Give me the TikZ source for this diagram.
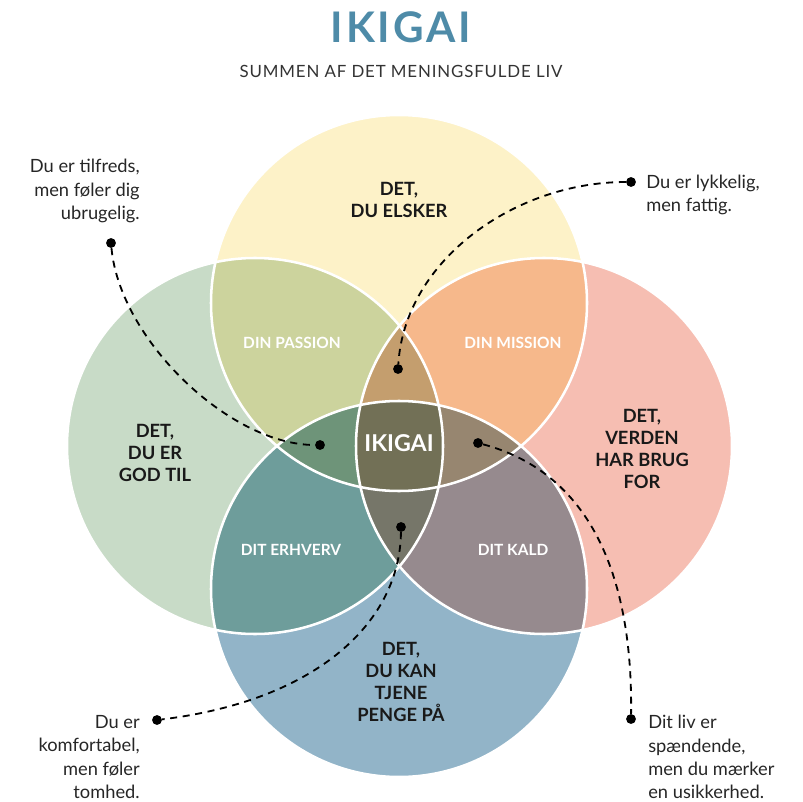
\documentclass[tikz,border=0pt]{standalone}
\usepackage{fontspec}
\setmainfont{Lato}
\usetikzlibrary{positioning}

\definecolor{titleblue}{HTML}{4E8BA8}
\definecolor{loveyellow}{HTML}{FDF2C8}
\definecolor{goodgreen}{HTML}{C8DBC7}
\definecolor{needpink}{HTML}{F6BEB2}
\definecolor{paidblue}{HTML}{92B4C8}
\definecolor{passioncol}{HTML}{CCD39D}
\definecolor{missioncol}{HTML}{F6B88B}
\definecolor{erhvervcol}{HTML}{6E9D9B}
\definecolor{kaldcol}{HTML}{968A8E}
\definecolor{toplenscol}{HTML}{C49E6E}
\definecolor{leftlenscol}{HTML}{6E9479}
\definecolor{rightlenscol}{HTML}{978670}
\definecolor{botlenscol}{HTML}{767669}
\definecolor{ikigaicol}{HTML}{727056}

\newcommand{\ikrad}{188}

\tikzset{
  maintext/.style={font=\bfseries\fontsize{13}{15.6}\selectfont, align=center, text=black!90, inner sep=0pt},
  lenstext/.style={font=\bfseries\fontsize{11}{12}\selectfont, text=white, inner sep=0pt},
  notetext/.style={font=\fontsize{13}{16.5}\selectfont, text=black!85, inner sep=0pt},
  pindot/.style={circle, fill=black, inner sep=0pt, minimum size=7pt},
  dashline/.style={black, line width=1.3pt, dash pattern=on 5pt off 4pt}
}

\begin{document}
\begin{tikzpicture}[x=0.25mm, y=-0.25mm]
        \useasboundingbox (0,0) rectangle (803,802);
        % Centres of the four circles
        \coordinate (T) at (399,303);
        \coordinate (L) at (255,446);
        \coordinate (R) at (544,446);
        \coordinate (B) at (399,589);
        % Single circles
        \fill[loveyellow] (T) circle[radius=\ikrad];
        \fill[goodgreen] (L) circle[radius=\ikrad];
        \fill[needpink] (R) circle[radius=\ikrad];
        \fill[paidblue] (B) circle[radius=\ikrad];
        % Two circles
        \begin{scope}
            \clip (T) circle[radius=\ikrad];
            \fill[passioncol] (L) circle[radius=\ikrad];
            \fill[missioncol] (R) circle[radius=\ikrad];
        \end{scope}
        \begin{scope}
            \clip (B) circle[radius=\ikrad];
            \fill[erhvervcol] (L) circle[radius=\ikrad];
            \fill[kaldcol] (R) circle[radius=\ikrad];
        \end{scope}
        % Three circles
        \begin{scope}
            \clip (T) circle[radius=\ikrad];
            \clip (L) circle[radius=\ikrad];
            \fill[toplenscol] (R) circle[radius=\ikrad];
            \fill[leftlenscol] (B) circle[radius=\ikrad];
        \end{scope}
        \begin{scope}
            \clip (B) circle[radius=\ikrad];
            \clip (R) circle[radius=\ikrad];
            \fill[rightlenscol] (T) circle[radius=\ikrad];
            \fill[botlenscol] (L) circle[radius=\ikrad];
        \end{scope}
        % All four
        \begin{scope}
            \clip (T) circle[radius=\ikrad];
            \clip (L) circle[radius=\ikrad];
            \clip (R) circle[radius=\ikrad];
            \fill[ikigaicol] (B) circle[radius=\ikrad];
        \end{scope}
        % White outlines
        \foreach \c in {T,L,R,B}
            \draw[white, line width=1.8pt] (\c) circle[radius=\ikrad];

        % Title
        \node[font=\bfseries\fontsize{30}{36}\selectfont\addfontfeature{LetterSpace=7}, text=titleblue] (title) at (401,27) {IKIGAI};
        \node[font=\fontsize{12}{14}\selectfont\addfontfeature{LetterSpace=5}, text=black!80] (subtitle) at (401,71) {SUMMEN AF DET MENINGSFULDE LIV};

        % Circle labels
        \node[maintext] (love) at (399,200) {DET,\\DU ELSKER};
        \node[maintext] (good) at (155,453) {DET,\\DU ER\\GOD TIL};
        \node[maintext] (need) at (642,449) {DET,\\VERDEN\\HAR BRUG\\FOR};
        \node[maintext] (paid) at (401,682) {DET,\\DU KAN\\TJENE\\PENGE PÅ};
        \node[lenstext] (passion) at (292,343) {DIN PASSION};
        \node[lenstext] (mission) at (513,343) {DIN MISSION};
        \node[lenstext] (erhverv) at (291,550) {DIT ERHVERV};
        \node[lenstext] (kald) at (513,550) {DIT KALD};
        \node[font=\bfseries\fontsize{16.5}{18}\selectfont, text=white] (ikigai) at (399,443) {IKIGAI};

        % Notes
        \node[notetext, align=right, anchor=east] (useless) at (140,191) {Du er tilfreds,\\men føler dig\\ubrugelig.};
        \node[notetext, align=left, anchor=west] (poor) at (646,195) {Du er lykkelig,\\men fattig.};
        \node[notetext, align=right, anchor=east] (empty) at (140,757) {Du er\\komfortabel,\\men føler\\tomhed.};
        \node[notetext, align=left, anchor=west] (unsure) at (648,757) {Dit liv er\\spændende,\\men du mærker\\en usikkerhed.};

        % Dots and dashed lines
        \node[pindot] (d1) at (111,243) {};
        \node[pindot] (p1) at (320,445) {};
        \node[pindot] (d2) at (631,182) {};
        \node[pindot] (p2) at (398,369) {};
        \node[pindot] (d3) at (157,720) {};
        \node[pindot] (p3) at (401,527) {};
        \node[pindot] (d4) at (631,719) {};
        \node[pindot] (p4) at (478,443) {};
        \draw[dashline] (d1) .. controls (120,340) and (230,445) .. (p1);
        \draw[dashline] (d2) .. controls (515,182) and (405,260) .. (p2);
        \draw[dashline] (p3) .. controls (400,620) and (320,700) .. (d3);
        \draw[dashline] (p4) .. controls (580,470) and (633,560) .. (d4);
\end{tikzpicture}
\end{document}
